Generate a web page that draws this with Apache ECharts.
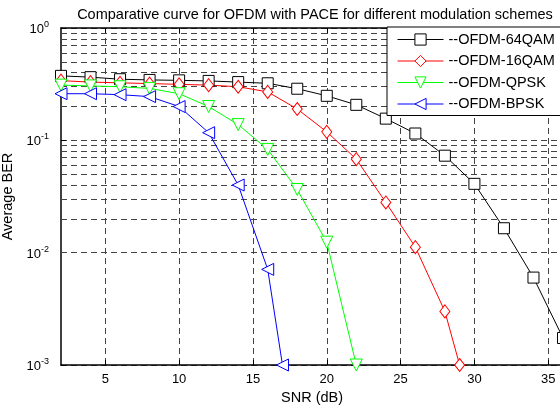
<!DOCTYPE html>
<html>
<head>
<meta charset="utf-8">
<script src="https://cdn.jsdelivr.net/npm/echarts@6/dist/echarts.min.js"></script>
<style>
html,body{margin:0;padding:0;background:#fff;}
#chart{width:560px;height:409px;}
</style>
</head>
<body>
<div id="chart"></div>
<script>
// ---- data ----
const xTickLabels = [5, 10, 15, 20, 25, 30, 35];
const snr64 = [2, 4, 6, 8, 10, 12, 14, 16, 18, 20, 22, 24, 26, 28, 30, 32, 34, 36];
const ber64 = [0.375, 0.365, 0.35, 0.345, 0.342, 0.338, 0.33, 0.322, 0.288, 0.249, 0.207, 0.156, 0.115, 0.073, 0.041, 0.0165, 0.006, 0.00174];
const snr16 = [2, 4, 6, 8, 10, 12, 14, 16, 18, 20, 22, 24, 26, 28, 29];
const ber16 = [0.34, 0.33, 0.325, 0.32, 0.315, 0.31, 0.3, 0.27, 0.19, 0.119, 0.068, 0.028, 0.0112, 0.003, 0.001];
const snrQ = [2, 4, 6, 8, 10, 12, 14, 16, 18, 20, 22];
const berQ = [0.31, 0.305, 0.3, 0.29, 0.26, 0.2, 0.138, 0.083, 0.0365, 0.0124, 0.001];
const snrB = [2, 4, 6, 8, 10, 12, 14, 16, 17];
const berB = [0.26, 0.26, 0.255, 0.245, 0.2, 0.117, 0.04, 0.0071, 0.001];
const minorGridValues = [0.002, 0.003, 0.004, 0.005, 0.006, 0.007, 0.008, 0.009,
                         0.02, 0.03, 0.04, 0.05, 0.06, 0.07, 0.08, 0.09,
                         0.2, 0.3, 0.4, 0.5, 0.6, 0.7, 0.8, 0.9];
const seriesNames = ['--OFDM-64QAM', '--OFDM-16QAM', '--OFDM-QPSK', '--OFDM-BPSK'];

const FONT = '"Liberation Sans", Arial, Helvetica, sans-serif';
const gridDash = { color: '#444', width: 1, type: [6, 4] };

function pairs(xs, ys) { return xs.map((x, i) => [x, ys[i]]); }

function mkSeries(name, xs, ys, color, symbol, rot, size) {
  return {
    name: name, type: 'line', data: pairs(xs, ys),
    symbol: symbol, symbolSize: size, symbolRotate: rot,
    showSymbol: true,
    lineStyle: { color: color, width: 1 },
    itemStyle: { color: '#fff', borderColor: color, borderWidth: 1 },
    emphasis: { disabled: true },
    z: 5, animation: false
  };
}

const chart = echarts.init(document.getElementById('chart'), null, { renderer: 'canvas' });
chart.setOption({
  backgroundColor: '#fff',
  animation: false,
  textStyle: { fontFamily: FONT },
  title: {
    text: 'Comparative curve for OFDM with PACE for different modulation schemes',
    left: 310, top: 2, textAlign: 'center',
    textStyle: { fontSize: 14.5, fontWeight: 'normal', color: '#000', fontFamily: FONT }
  },
  legend: {
    data: seriesNames,
    orient: 'vertical',
    left: 387, top: 27, z: 20,
    padding: [5, 40, 4, 10],
    itemGap: 6.5,
    itemWidth: 46, itemHeight: 14,
    backgroundColor: '#fff',
    borderColor: '#000', borderWidth: 1, borderRadius: 0,
    lineStyle: { width: 1 },
    itemStyle: { borderWidth: 1 },
    textStyle: { fontSize: 14.5, color: '#000', fontFamily: FONT },
    selectedMode: false
  },
  grid: { left: 61, right: -3, top: 28, bottom: 44, containLabel: false, outerBoundsMode: 'none' },
  xAxis: [{
    type: 'value', min: 2, max: 36, splitNumber: 7,
    name: 'SNR (dB)', nameLocation: 'middle', nameGap: 24,
    nameTextStyle: { fontSize: 14.5, color: '#000', fontFamily: FONT },
    axisLine: { show: true, onZero: false, lineStyle: { color: '#000', width: 1.5 } },
    axisTick: { show: true, inside: true, length: 5, customValues: xTickLabels, lineStyle: { color: '#000' } },
    axisLabel: { customValues: xTickLabels, fontSize: 13, color: '#000', margin: 8, fontFamily: FONT },
    splitLine: { show: true, lineStyle: gridDash }
  }, {
    type: 'value', min: 2, max: 36, position: 'top',
    axisLine: { show: true, onZero: false, lineStyle: { color: '#000', width: 1.5 } },
    axisTick: { show: true, inside: true, length: 5, customValues: xTickLabels, lineStyle: { color: '#000' } },
    axisLabel: { show: false },
    splitLine: { show: false }
  }],
  yAxis: [{
    type: 'log', logBase: 10, min: 0.001, max: 1,
    name: 'Average BER', nameLocation: 'middle', nameGap: 35,
    nameTextStyle: { fontSize: 14.5, color: '#000', fontFamily: FONT },
    axisLine: { show: true, onZero: false, lineStyle: { color: '#000', width: 1.5 } },
    axisTick: { show: true, inside: true, length: 5, lineStyle: { color: '#000' } },
    axisLabel: {
      margin: 12,
      formatter: function (v) {
        const e = Math.round(Math.log10(v));
        return '{b|10}{s|' + e + '}';
      },
      rich: {
        b: { fontSize: 13, color: '#000', fontFamily: FONT, lineHeight: 16, verticalAlign: 'bottom', padding: [6, 0, 0, 0] },
        s: { fontSize: 9, color: '#000', fontFamily: FONT, lineHeight: 10, verticalAlign: 'top' }
      }
    },
    splitLine: { show: true, lineStyle: gridDash }
  }, {
    type: 'log', logBase: 10, min: 0.001, max: 1, position: 'right',
    axisLine: { show: true, onZero: false, lineStyle: { color: '#000', width: 1.5 } },
    axisTick: { show: false },
    axisLabel: { show: false },
    splitLine: { show: false }
  }],
  series: [
    {
      name: 'grid', type: 'line', data: [], symbol: 'none', silent: true, z: 1,
      markLine: {
        silent: true, symbol: 'none', animation: false,
        label: { show: false },
        lineStyle: gridDash,
        emphasis: { disabled: true },
        data: minorGridValues.map(v => ({ yAxis: v }))
      }
    },
    mkSeries(seriesNames[0], snr64, ber64, '#000', 'rect', 0, 11),
    mkSeries(seriesNames[1], snr16, ber16, '#ff0000', 'diamond', 0, [10, 13]),
    mkSeries(seriesNames[2], snrQ, berQ, '#00ff00', 'triangle', 180, 12),
    mkSeries(seriesNames[3], snrB, berB, '#0000ff', 'triangle', 90, 12)
  ]
});
</script>
</body>
</html>
